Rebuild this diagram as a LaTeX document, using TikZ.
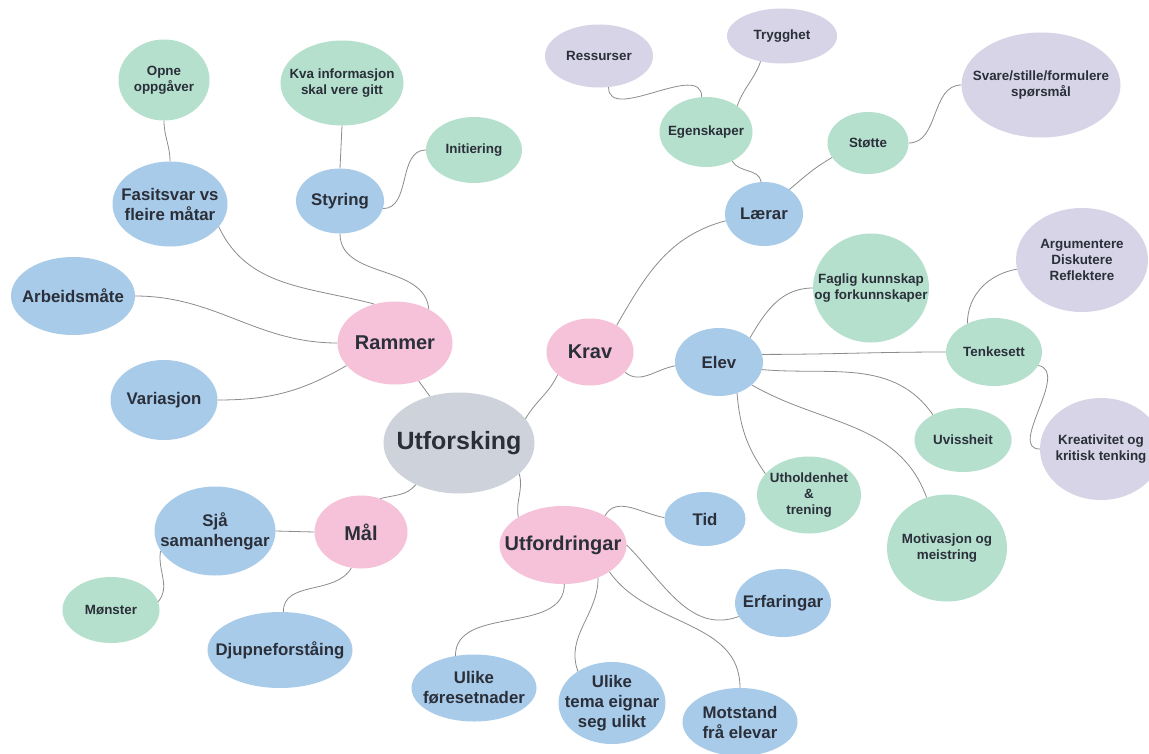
\documentclass[tikz,border=0pt]{standalone}
\usepackage{fontspec}
\setmainfont{Liberation Sans}
\usetikzlibrary{shapes.geometric}
\definecolor{graa}{RGB}{205,210,219}
\definecolor{rosa}{RGB}{245,194,217}
\definecolor{lyseblaa}{RGB}{168,203,234}
\definecolor{mint}{RGB}{181,224,205}
\definecolor{lavendel}{RGB}{214,212,230}
\definecolor{tekst}{RGB}{42,47,57}
\definecolor{linje}{RGB}{140,140,140}

\begin{document}
\begin{tikzpicture}[x=1pt, y=-1pt,
        bobl/.style={ellipse, inner xsep=-30pt, inner ysep=-12pt, align=center, text=tekst},
        sz/.style 2 args={minimum width=#1, minimum height=#2},
        hub/.style={bobl, fill=graa, font=\fontsize{25}{29}\selectfont\bfseries},
        kat/.style={bobl, fill=rosa, font=\fontsize{20}{24}\selectfont\bfseries},
        blaa/.style={bobl, fill=lyseblaa, font=\fontsize{16.8}{20}\selectfont\bfseries},
        groen/.style={bobl, fill=mint, font=\fontsize{13.4}{16}\selectfont\bfseries},
        lilla/.style={bobl, fill=lavendel, font=\fontsize{13.4}{16}\selectfont\bfseries},
        link/.style={draw=linje, line width=0.8pt}]
                \path[use as bounding box, fill=white] (0,0) rectangle (1149,753);
                \clip (0,0) rectangle (1149,753);
                % midten og hovudgreiner
                \node[hub, sz={151}{101}] (U) at (459,443) {Utforsking};
                \node[kat, sz={115}{83}] (R) at (395,343) {Rammer};
                \node[kat, sz={87}{67}] (K) at (590,352) {Krav};
                \node[kat, sz={93}{73}] (M) at (361,532) {Mål};
                \node[kat, sz={127}{78}] (F) at (563,545) {Utfordringar};
                % Rammer
                \node[blaa, sz={115}{85}] (Fa) at (170,204) {Fasitsvar vs\\fleire måtar};
                \node[groen, sz={91}{81}] (Op) at (164,80) {Opne\\oppgåver};
                \node[blaa, sz={88}{65}] (St) at (340,201) {Styring};
                \node[groen, sz={123}{85}] (Kv) at (342,83) {Kva informasjon\\skal vere gitt};
                \node[groen, sz={96}{66}] (In) at (474,150) {Initiering};
                \node[blaa, sz={124}{78}] (Ar) at (73,296) {Arbeidsmåte};
                \node[blaa, sz={107}{80}] (Va) at (164,400) {Variasjon};
                % Mål
                \node[blaa, sz={121}{89}] (Sj) at (215,531) {Sjå\\samanhengar};
                \node[groen, sz={97}{66}] (Mo) at (111,610) {Mønster};
                \node[blaa, sz={145}{76}] (Dj) at (280,650) {Djupneforståing};
                % Utfordringar
                \node[blaa, sz={125}{67}] (Uf) at (474,688) {Ulike\\føresetnader};
                \node[blaa, sz={107}{82}] (Ut) at (612,703) {Ulike\\tema eignar\\seg ulikt};
                \node[blaa, sz={115}{68}] (Mt) at (740,722) {Motstand\\frå elevar};
                \node[blaa, sz={81}{54}] (Ti) at (705,519) {Tid};
                \node[blaa, sz={96}{68}] (Er) at (783,603) {Erfaringar};
                % Krav
                \node[blaa, sz={88}{68}] (El) at (719,362) {Elev};
                \node[blaa, sz={78}{64}] (La) at (764,214) {Lærar};
                \node[groen, sz={93}{70}] (Eg) at (706,132) {Egenskaper};
                \node[lilla, sz={108}{63}] (Re) at (599,56) {Ressurser};
                \node[lilla, sz={110}{55}] (Tr) at (782,36) {Trygghet};
                \node[groen, sz={81}{62}] (So) at (868,143) {Støtte};
                \node[lilla, sz={159}{105}] (Sv) at (1041,85) {Svare/stille/formulere\\spørsmål};
                \node[groen, sz={116}{109}] (Fk) at (871,288) {Faglig kunnskap\\og forkunnskaper};
                \node[lilla, sz={132}{104}] (Ag) at (1082,260) {Argumentere\\Diskutere\\Reflektere};
                \node[groen, sz={96}{68}] (Tk) at (994,352) {Tenkesett};
                \node[lilla, sz={122}{102}] (Kr) at (1101,449) {Kreativitet og\\kritisk tenking};
                \node[groen, sz={97}{64}] (Uv) at (963,440) {Uvissheit};
                \node[groen, sz={104}{77}] (Uh) at (809,495) {Utholdenhet\\\&\\trening};
                \node[groen, sz={120}{107}] (Mv) at (947,548) {Motivasjon og\\meistring};
                \draw [link]
                    (U.122) -- (R.-58)
                    (U.20) to[out=60, in=-115] (K.-145)
                    (U.-136) to[out=-130, in=15] (M.60)
                    (U.-27) to[out=-75, in=100] (F.148)
                    (Op.-90) to[out=-90, in=90] (Fa.90)
                    (Kv.-90) -- (St.90)
                    (St.-10) to[out=0, in=180] (In.180)
                    (St.-90) to[out=-90, in=95] (R.45)
                    (Fa.-25) to[out=-65, in=165] (R.118)
                    (Ar.0) to[out=0, in=180] (R.180)
                    (Va.0) to[out=0, in=210] (R.205)
                    (M.180) -- (Sj.0)
                    (M.-105) to[out=-120, in=90] (Dj.85)
                    (Sj.200) to[out=-100, in=50] (Mo.10)
                    (F.35) to[out=60, in=170] (Ti.178)
                    (F.0) to[out=-45, in=200] (Er.197)
                    (F.-30) to[out=-55, in=90] (Mt.90)
                    (F.-43) to[out=-90, in=110] (Ut.137)
                    (F.-88) to[out=-90, in=90] (Uf.120)
                    (K.45) to[out=60, in=195] (La.190)
                    (K.-30) to[out=-40, in=190] (El.185)
                    (El.38) to[out=60, in=180] (Fk.180)
                    (El.10) to[out=0, in=180] (Tk.180)
                    (El.-10) to[out=-5, in=125] (Uv.140)
                    (El.-35) to[out=-30, in=110] (Mv.112)
                    (El.-60) to[out=-85, in=125] (Uh.154)
                    (Tk.133) to[out=90, in=190] (Ag.188)
                    (Tk.-17) to[out=-10, in=180] (Kr.180)
                    (La.95) to[out=100, in=-60] (Eg.-48)
                    (La.44) to[out=40, in=210] (So.202)
                    (Eg.40) to[out=70, in=-110] (Tr.-130)
                    (Eg.97) to[out=90, in=-90] (Re.-73)
                    (So.0) to[out=0, in=180] (Sv.180);
            \end{tikzpicture}
\end{document}
